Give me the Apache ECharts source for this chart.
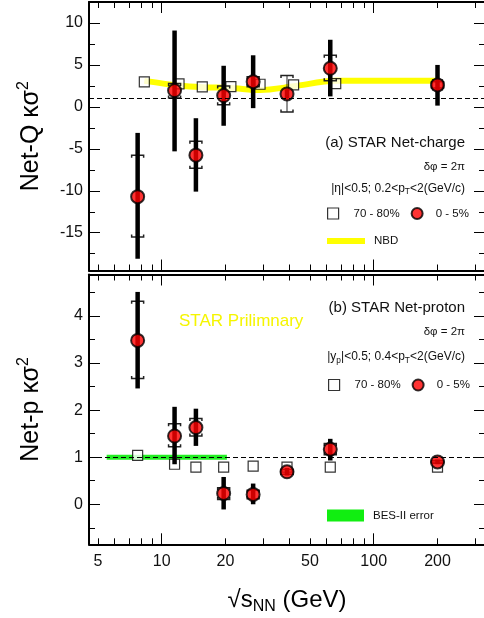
<!DOCTYPE html>
<html>
<head>
<meta charset="utf-8">
<script src="https://cdn.jsdelivr.net/npm/echarts@6/dist/echarts.min.js"></script>
<style>
html,body{margin:0;padding:0;background:#fff;}
#chart{width:484px;height:618px;}
</style>
</head>
<body>
<div id="chart"></div>
<script>
// ---------------- data ----------------
const energies = [7.7, 11.5, 14.5, 19.6, 27, 39, 62.4, 200];

// (a) Net-charge, 0-5% central
const netQCentral  = [-10.7, 1.95, -5.75, 1.35, 3.0, 1.55, 4.6, 2.62];
const netQStatHigh = [-3.1, 9.1, -1.35, 4.9, 6.15, 2.1, 8.0, 5.0];
const netQStatLow  = [-18.1, -5.3, -10.1, -2.25, -0.15, 1.0, 1.25, 0.15];
const netQSysHigh  = [-5.75, 2.8, -4.1, 2.5, 3.6, 3.75, 6.15, 3.0];
const netQSysLow   = [-15.5, 1.05, -7.3, 0.25, 2.4, -0.6, 3.1, 2.25];
// (a) Net-charge, 70-80% peripheral (drawn slightly shifted in energy)
const netQPeriphEnergies = [8.28, 12.07, 15.54, 21.2, 29.1, 41.9, 66.2, 200];
const netQPeriph         = [2.98, 2.74, 2.38, 2.42, 2.7, 2.62, 2.77, 2.62];
// (a) NBD baseline
const nbdEnergies = [8.28, 12.07, 15.54, 21.2, 29.1, 41.9, 66.2, 200];
const nbdValues   = [3.1, 2.55, 2.35, 2.25, 2.0, 2.45, 3.1, 3.1];

// (b) Net-proton, 0-5% central
const netPCentral  = [3.48, 1.45, 1.63, 0.23, 0.21, 0.69, 1.17, 0.9];
const netPStatHigh = [4.51, 2.07, 2.03, 0.58, 0.44, 0.77, 1.39, 0.95];
const netPStatLow  = [2.46, 0.85, 1.24, -0.11, 0.0, 0.61, 0.93, 0.85];
const netPSysHigh  = [4.31, 1.71, 1.82, 0.35, 0.3, 0.74, 1.29, 0.93];
const netPSysLow   = [2.67, 1.22, 1.45, 0.1, 0.12, 0.64, 1.05, 0.87];
// (b) Net-proton, 70-80% peripheral
const netPPeriph = [1.04, 0.85, 0.79, 0.79, 0.81, 0.79, 0.79, 0.79];
// (b) BES-II projected error band
const besEnergyRange = [5.5, 20.3];
const besBand = [0.947, 1.053];

const referenceLevel = 1;

// axes / ticks
const xRange = [4.54, 335];
const xLabelValues = [5, 10, 20, 50, 100, 200];
const xMajorTicks = [10, 100];
const xMinorTicks = [5, 6, 7, 8, 9, 20, 30, 40, 50, 60, 70, 80, 90, 200, 300];
const qRange = [-19.5, 12.5];
const qLabelValues = [-15, -10, -5, 0, 5, 10];
const qMinorTicks = [-17.5, -12.5, -7.5, -2.5, 2.5, 7.5];
const pRange = [-0.85, 4.88];
const pLabelValues = [0, 1, 2, 3, 4];
const pMinorTicks = [-0.5, 0.5, 1.5, 2.5, 3.5, 4.5];

// ---------------- chart ----------------
const FONT = 'Liberation Sans, Arial, Helvetica, sans-serif';
const chart = echarts.init(document.getElementById('chart'), null, {renderer: 'canvas'});

const grids = [
  {left: 89, top: 2, right: -1, height: 268.5, outerBoundsMode: 'none', containLabel: false},
  {left: 89, top: 274.5, right: -1, height: 269.8, outerBoundsMode: 'none', containLabel: false}
];

const xAxes = [], yAxes = [];
function addX(grid, position, ticks, len, labels, showLine, extra) {
  xAxes.push(Object.assign({
    type: 'log', logBase: 10, gridIndex: grid, position: position,
    min: xRange[0], max: xRange[1],
    axisLine: {show: showLine, onZero: false, lineStyle: {color: '#000', width: 2}},
    axisTick: {show: true, inside: true, length: len, customValues: ticks, lineStyle: {color: '#000', width: 1}},
    axisLabel: {show: !!labels, customValues: labels || ticks, margin: 9, color: '#111', fontSize: 16, fontFamily: FONT},
    splitLine: {show: false}, minorTick: {show: false}, minorSplitLine: {show: false}
  }, extra || {}));
  return xAxes.length - 1;
}
function addY(grid, position, range, ticks, len, labels, showLine, extra) {
  yAxes.push(Object.assign({
    type: 'value', gridIndex: grid, position: position,
    min: range[0], max: range[1],
    axisLine: {show: showLine, onZero: false, lineStyle: {color: '#000', width: 2}},
    axisTick: {show: true, inside: true, length: len, customValues: ticks, lineStyle: {color: '#000', width: 1}},
    axisLabel: {show: !!labels, customValues: labels || ticks, margin: 6, color: '#111', fontSize: 16, fontFamily: FONT},
    splitLine: {show: false}, minorTick: {show: false}, minorSplitLine: {show: false}
  }, extra || {}));
  return yAxes.length - 1;
}
function yName(text) {
  return {
    name: text, nameLocation: 'middle', nameGap: 42, nameRotate: 90,
    nameTextStyle: {fontSize: 25, color: '#000', fontFamily: FONT,
      rich: {sup: {fontSize: 16, color: '#000', fontFamily: FONT, padding: [0, 0, 15, 0]}}}
  };
}

// top panel axes
const xTop = addX(0, 'bottom', xMajorTicks, 11, null, true);
addX(0, 'bottom', xMinorTicks, 6, null, false);
addX(0, 'top', xMajorTicks, 11, null, true);
addX(0, 'top', xMinorTicks, 6, null, false);
const yTop = addY(0, 'left', qRange, qLabelValues, 11, qLabelValues, true, yName('Net-Q κσ{sup|2}'));
addY(0, 'left', qRange, qMinorTicks, 6, null, false);
addY(0, 'right', qRange, qLabelValues, 11, null, true);
addY(0, 'right', qRange, qMinorTicks, 6, null, false);
// bottom panel axes
const xBot = addX(1, 'bottom', xMajorTicks, 11, xLabelValues, true, {
  name: '√s{sub|NN} (GeV)', nameLocation: 'middle', nameGap: 43,
  nameTextStyle: {fontSize: 24, color: '#000', fontFamily: FONT,
    rich: {sub: {fontSize: 16, color: '#000', fontFamily: FONT, padding: [11, 0, 0, 0]}}}
});
addX(1, 'bottom', xMinorTicks, 6, null, false);
addX(1, 'top', xMajorTicks, 11, null, true);
addX(1, 'top', xMinorTicks, 6, null, false);
const yBot = addY(1, 'left', pRange, pLabelValues, 11, pLabelValues, true, yName('Net-p κσ{sup|2}'));
addY(1, 'left', pRange, pMinorTicks, 6, null, false);
addY(1, 'right', pRange, pLabelValues, 11, null, true);
addY(1, 'right', pRange, pMinorTicks, 6, null, false);

// render helpers (all positions via the library's coordinate system)
function statBar(params, api) {
  const x = api.value(0);
  const lo = api.coord([x, api.value(1)]);
  const hi = api.coord([x, api.value(2)]);
  return {type: 'line', shape: {x1: lo[0], y1: lo[1], x2: hi[0], y2: hi[1]},
    style: {stroke: '#000', lineWidth: 4.5}};
}
function sysBracket(params, api) {
  const x = api.value(0);
  const lo = api.coord([x, api.value(1)]);
  const hi = api.coord([x, api.value(2)]);
  const w = 6, t = 2.5;
  return {type: 'group', children: [
    {type: 'line', shape: {x1: lo[0], y1: lo[1], x2: hi[0], y2: hi[1]}, style: {stroke: '#222', lineWidth: 1}},
    {type: 'polyline', shape: {points: [[hi[0] - w, hi[1] + t], [hi[0] - w, hi[1]], [hi[0] + w, hi[1]], [hi[0] + w, hi[1] + t]]},
      style: {stroke: '#222', fill: null, lineWidth: 1.5}},
    {type: 'polyline', shape: {points: [[lo[0] - w, lo[1] - t], [lo[0] - w, lo[1]], [lo[0] + w, lo[1]], [lo[0] + w, lo[1] - t]]},
      style: {stroke: '#222', fill: null, lineWidth: 1.5}}
  ]};
}
function band(params, api) {
  const a = api.coord([api.value(0), api.value(1)]);
  const b = api.coord([api.value(2), api.value(3)]);
  return {type: 'rect', shape: {x: a[0], y: b[1], width: b[0] - a[0], height: a[1] - b[1]},
    style: {fill: '#22ee22'}};
}
const refLine = {
  silent: true, symbol: ['none', 'none'], label: {show: false},
  lineStyle: {type: [5, 3], color: '#000', width: 1},
  data: [{yAxis: referenceLevel}]
};
const squareStyle = {color: '#fff', borderColor: '#000', borderWidth: 1.2};
const circleStyle = {color: '#ff0000', borderColor: '#000', borderWidth: 2};

const series = [
  // ---- top panel ----
  {name: 'NBD', type: 'line', xAxisIndex: xTop, yAxisIndex: yTop, z: 1,
    data: nbdEnergies.map((e, i) => [e, nbdValues[i]]),
    smooth: 0.3, showSymbol: false, symbol: 'none',
    lineStyle: {color: '#ffff00', width: 6}, itemStyle: {color: '#ffff00'},
    markLine: refLine},
  {name: '70 - 80%', type: 'scatter', xAxisIndex: xTop, yAxisIndex: yTop, z: 2,
    symbol: 'rect', symbolSize: 10, itemStyle: squareStyle,
    data: netQPeriphEnergies.map((e, i) => [e, netQPeriph[i]])},
  {name: 'netQ sys', type: 'custom', xAxisIndex: xTop, yAxisIndex: yTop, z: 3,
    renderItem: sysBracket, encode: {x: 0, y: [1, 2]},
    data: energies.map((e, i) => [e, netQSysLow[i], netQSysHigh[i]])},
  {name: 'netQ stat', type: 'custom', xAxisIndex: xTop, yAxisIndex: yTop, z: 3,
    renderItem: statBar, encode: {x: 0, y: [1, 2]},
    data: energies.map((e, i) => [e, netQStatLow[i], netQStatHigh[i]])},
  {name: '0 - 5%', type: 'scatter', xAxisIndex: xTop, yAxisIndex: yTop, z: 4,
    symbol: 'circle', symbolSize: 13, itemStyle: circleStyle,
    data: energies.map((e, i) => [e, netQCentral[i]])},
  // ---- bottom panel ----
  {name: 'BES-II error', type: 'custom', xAxisIndex: xBot, yAxisIndex: yBot, z: 1,
    renderItem: band, encode: {x: [0, 2], y: [1, 3]}, itemStyle: {color: '#22ee22'},
    data: [[besEnergyRange[0], besBand[0], besEnergyRange[1], besBand[1]]],
    markLine: refLine},
  {name: '70 - 80%', type: 'scatter', xAxisIndex: xBot, yAxisIndex: yBot, z: 2,
    symbol: 'rect', symbolSize: 10, itemStyle: squareStyle,
    data: energies.map((e, i) => [e, netPPeriph[i]])},
  {name: 'netP sys', type: 'custom', xAxisIndex: xBot, yAxisIndex: yBot, z: 3,
    renderItem: sysBracket, encode: {x: 0, y: [1, 2]},
    data: energies.map((e, i) => [e, netPSysLow[i], netPSysHigh[i]])},
  {name: 'netP stat', type: 'custom', xAxisIndex: xBot, yAxisIndex: yBot, z: 3,
    renderItem: statBar, encode: {x: 0, y: [1, 2]},
    data: energies.map((e, i) => [e, netPStatLow[i], netPStatHigh[i]])},
  {name: '0 - 5%', type: 'scatter', xAxisIndex: xBot, yAxisIndex: yBot, z: 4,
    symbol: 'circle', symbolSize: 13, itemStyle: circleStyle,
    data: energies.map((e, i) => [e, netPCentral[i]])}
];

const legendText = {fontSize: 11.5, color: '#111', fontFamily: FONT, padding: [0, 0, 0, 10]};
function centLegend(left, top) {
  return {left: left, top: top, padding: 0, itemWidth: 11, itemHeight: 11, itemGap: 11,
    selectedMode: false, textStyle: legendText,
    data: [
      {name: '70 - 80%', icon: 'rect', itemStyle: {color: '#fff', borderColor: '#000', borderWidth: 1.2}},
      {name: '0 - 5%', icon: 'circle', itemStyle: {color: '#ff0000', borderColor: '#000', borderWidth: 2},
        textStyle: {padding: [0, 0, 0, 8]}}
    ]};
}
const legends = [
  centLegend(327, 207),
  {left: 327, top: 235, padding: 0, itemWidth: 38, itemHeight: 6, selectedMode: false,
    textStyle: Object.assign({}, legendText, {padding: [0, 0, 0, 4]}),
    data: [{name: 'NBD', icon: 'rect', itemStyle: {color: '#ffff00', borderWidth: 0}}]},
  centLegend(328, 378.5),
  {left: 327, top: 509.5, padding: 0, itemWidth: 37, itemHeight: 12, selectedMode: false,
    textStyle: Object.assign({}, legendText, {padding: [0, 0, 0, 4]}),
    data: [{name: 'BES-II error', icon: 'rect', itemStyle: {color: '#11ee11', borderWidth: 0}}]}
];

function label(x, y, text, size) {
  return {type: 'text', x: x, y: y, silent: true, style: {
    text: text, fill: '#111', fontSize: size, fontFamily: FONT, align: 'right', verticalAlign: 'middle',
    rich: {s: {fontSize: size * 0.7, fill: '#111', fontFamily: FONT, padding: [7, 0, 0, 0]}}
  }};
}
const graphics = [
  label(465, 143.3, '(a) STAR Net-charge', 15),
  label(465, 166.5, 'δφ = 2π', 11.5),
  label(465, 188.3, '|η|<0.5; 0.2<p{s|T}<2(GeV/c)', 12),
  label(465, 308.3, '(b) STAR Net-proton', 15),
  label(465, 331.7, 'δφ = 2π', 11.5),
  label(465, 356.7, '|y{s|p}|<0.5; 0.4<p{s|T}<2(GeV/c)', 12),
  {type: 'text', x: 179, y: 321.7, silent: true, style: {
    text: 'STAR Prilimnary', fill: '#f5f500', fontSize: 17, fontFamily: FONT, align: 'left', verticalAlign: 'middle'}}
];

chart.setOption({
  animation: false,
  backgroundColor: '#fff',
  textStyle: {fontFamily: FONT},
  grid: grids,
  xAxis: xAxes,
  yAxis: yAxes,
  legend: legends,
  graphic: graphics,
  series: series
});
</script>
</body>
</html>
